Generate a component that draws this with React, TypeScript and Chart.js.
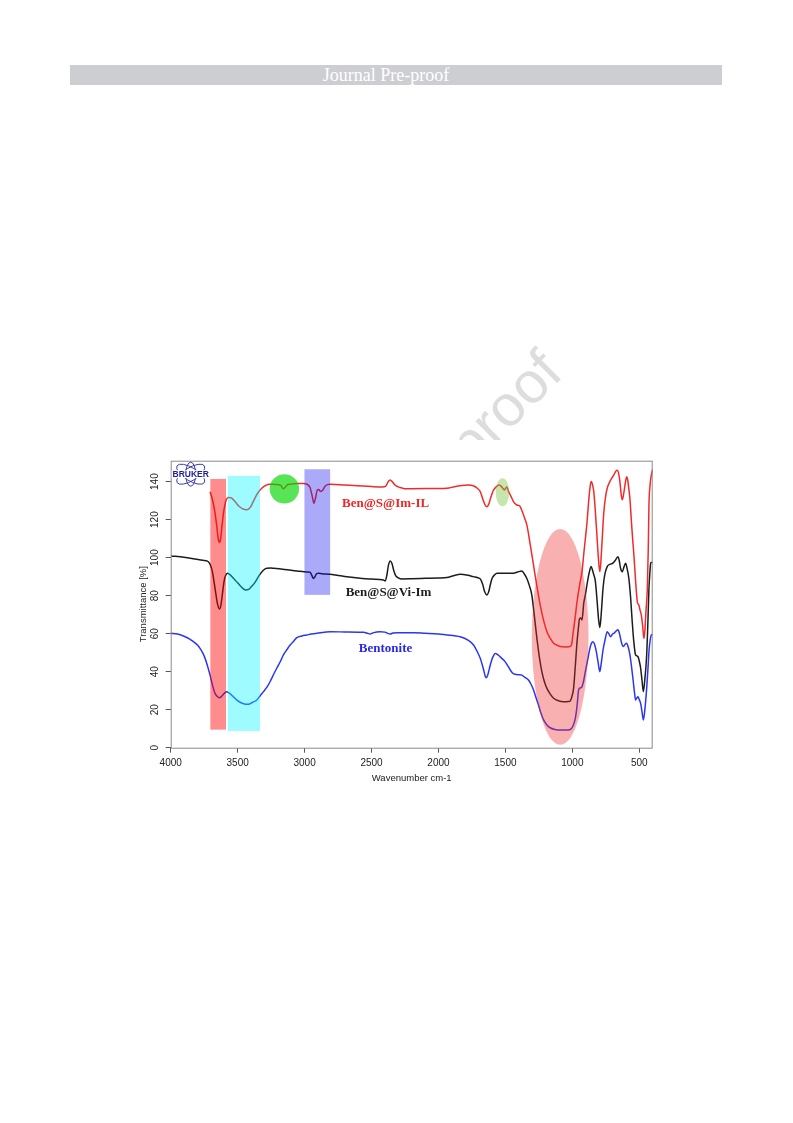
import React, { useEffect, useRef } from 'react';
import { Chart, registerables } from 'chart.js';

Chart.register(...registerables);

// ---------- axis ticks ----------
const X_TICKS = [4000, 3500, 3000, 2500, 2000, 1500, 1000, 500];
const Y_TICKS = [0, 20, 40, 60, 80, 100, 120, 140];

// ---------- Ben@S@Im-IL (red) ----------
const RED_WN = [3706, 3690, 3670, 3655, 3645, 3636, 3627, 3615, 3600, 3585, 3569, 3550, 3520, 3490, 3460, 3432, 3405, 3380, 3350, 3320, 3290, 3258, 3220, 3190, 3175, 3160, 3145, 3125, 3090, 3058, 3010, 2980, 2960, 2945, 2930, 2918, 2905, 2895, 2880, 2865, 2850, 2830, 2809, 2700, 2600, 2500, 2420, 2395, 2375, 2361, 2345, 2325, 2300, 2270, 2249, 2200, 2100, 2000, 1937, 1880, 1837, 1780, 1740, 1710, 1688, 1665, 1650, 1638, 1625, 1610, 1588, 1565, 1551, 1535, 1520, 1509, 1498, 1489, 1478, 1464, 1450, 1440, 1415, 1400, 1390, 1370, 1355, 1340, 1315, 1290, 1265, 1240, 1215, 1190, 1165, 1140, 1110, 1090, 1050, 1016, 1005, 995, 980, 965, 945, 928, 912, 900, 890, 878, 868, 860, 852, 840, 828, 815, 805, 795, 787, 777, 765, 752, 740, 720, 700, 690, 675, 665, 655, 645, 635, 627, 617, 607, 600, 595, 587, 578, 570, 560, 550, 540, 528, 515, 508, 503, 495, 485, 475, 468, 465, 458, 450, 440, 433, 428, 420, 410, 400];
const RED_T = [134.7, 131, 124, 116, 110, 108, 110, 118, 126, 130.5, 131.6, 131.5, 129.5, 127, 125.6, 125.2, 126.5, 130, 134, 136.5, 138, 138.6, 138.5, 138.4, 137.8, 136.2, 137, 138.5, 138.8, 139, 139, 138.5, 137, 133, 128.6, 131.5, 135.6, 135.8, 134.8, 135.4, 137.3, 138.4, 138.6, 138.2, 137.8, 137.4, 137.2, 137.5, 140, 140.9, 140, 138.2, 137.2, 136.6, 136.2, 136.3, 136.4, 136.4, 136.5, 137.3, 137.8, 138.2, 137.8, 136.5, 134.7, 130, 127.5, 126.8, 128, 131.5, 135.6, 137.5, 138.2, 137.8, 136.5, 135.6, 136.5, 137.2, 135, 133, 131, 129.5, 127.7, 127.5, 126.8, 123.5, 120.5, 117.2, 107, 96, 85, 75, 67, 61, 57.5, 55, 53.8, 53.2, 53, 53.2, 54.5, 60, 68, 76.8, 86, 92.6, 104, 112, 119, 130, 137, 140, 139, 134.7, 124, 110, 99, 92.6, 98, 110, 124, 132, 136.5, 140, 142.5, 143.5, 145.5, 146, 144.5, 140, 133, 130.4, 133.5, 138.2, 141, 142.6, 141, 136, 131, 120, 110, 101, 88, 76.8, 75.5, 75, 72.5, 69.8, 64, 58.5, 57.5, 62, 72, 83.9, 105, 127.7, 138, 143.5, 146.5];

// ---------- Ben@S@Vi-Im (black) ----------
const BLACK_WN = [4000, 3900, 3806, 3760, 3726, 3712, 3700, 3690, 3680, 3665, 3650, 3636, 3625, 3612, 3600, 3590, 3577, 3560, 3530, 3500, 3470, 3440, 3420, 3400, 3370, 3340, 3310, 3283, 3250, 3233, 3150, 3058, 2980, 2959, 2945, 2934, 2922, 2910, 2895, 2870, 2809, 2700, 2600, 2500, 2411, 2398, 2385, 2375, 2361, 2348, 2335, 2320, 2300, 2275, 2200, 2100, 2000, 1937, 1887, 1837, 1780, 1740, 1700, 1688, 1670, 1655, 1638, 1625, 1612, 1600, 1580, 1563, 1500, 1440, 1410, 1378, 1360, 1340, 1320, 1303, 1285, 1265, 1245, 1228, 1210, 1190, 1165, 1140, 1100, 1066, 1030, 1016, 1005, 991, 978, 965, 955, 946, 937, 928, 915, 903, 888, 873, 860, 850, 840, 828, 815, 805, 795, 787, 778, 771, 758, 740, 720, 700, 680, 660, 650, 640, 627, 615, 602, 592, 578, 565, 553, 540, 528, 518, 510, 500, 490, 480, 470, 460, 445, 435, 428, 420, 415, 400];
const BLACK_T = [100.9, 100.2, 99.1, 98.6, 98.2, 97.2, 95.5, 93, 89, 82, 75.5, 73, 75, 82, 88, 90.6, 91.8, 91.2, 89, 86.8, 84.4, 83, 83.2, 84.5, 87, 90.5, 93.2, 94.4, 94.5, 94.4, 93.8, 93, 92.4, 92.3, 90.5, 89, 90, 91.6, 91.8, 91.5, 91.2, 90.1, 89.3, 88.7, 88.2, 87.7, 91, 95.5, 98.2, 97, 93.5, 90.5, 89.4, 88.8, 88.9, 89.1, 89.3, 89.5, 90.5, 91.2, 90.7, 90, 89.3, 88.8, 86, 82, 80.4, 82, 86, 89, 91, 91.8, 91.8, 91.8, 92.4, 93, 91.5, 89, 85, 80.4, 70, 57.5, 47, 40, 35, 31.2, 28.2, 26, 24.6, 24.2, 24.3, 24.6, 26.5, 31.2, 43, 55.8, 63, 68, 68.2, 67.2, 76, 80.4, 87, 92.5, 95.3, 93.5, 91, 87.4, 77, 68, 63.2, 68, 77, 83.9, 91, 95.3, 96.5, 97, 98.5, 100.5, 98.5, 94.4, 92.6, 95, 97, 94.5, 89, 79, 66.3, 55, 48.8, 48.3, 47.9, 45.5, 41.8, 35.5, 29.5, 35, 48.8, 68, 83.9, 93, 97.5, 97.5];

// ---------- Bentonite (blue) ----------
const BLUE_WN = [4000, 3950, 3905, 3860, 3831, 3800, 3781, 3760, 3743, 3725, 3706, 3690, 3669, 3650, 3636, 3620, 3606, 3594, 3582, 3565, 3550, 3532, 3510, 3482, 3450, 3420, 3390, 3357, 3330, 3307, 3280, 3258, 3232, 3208, 3180, 3158, 3130, 3108, 3080, 3058, 3020, 2984, 2950, 2909, 2809, 2700, 2600, 2560, 2530, 2510, 2490, 2436, 2400, 2375, 2361, 2340, 2300, 2187, 2100, 2000, 1937, 1880, 1837, 1780, 1738, 1710, 1688, 1665, 1650, 1643, 1632, 1613, 1595, 1575, 1555, 1535, 1513, 1490, 1464, 1445, 1427, 1400, 1378, 1355, 1328, 1310, 1290, 1270, 1253, 1235, 1215, 1190, 1166, 1130, 1091, 1050, 1016, 998, 978, 965, 953, 940, 928, 915, 903, 885, 866, 856, 846, 835, 821, 808, 795, 785, 771, 755, 740, 728, 715, 700, 690, 675, 660, 648, 635, 620, 607, 595, 583, 570, 557, 545, 535, 528, 520, 510, 500, 490, 480, 470, 460, 445, 435, 428, 420, 410, 400];
const BLUE_T = [60.2, 59.8, 58.8, 57.3, 55.8, 54, 52.3, 49.8, 47, 43, 38.2, 33.5, 28.6, 26.8, 26.3, 27, 28.1, 29, 29.5, 28.8, 28, 26.8, 25.3, 23.9, 23, 22.8, 23.8, 25.1, 27.5, 29.5, 32, 34.7, 38.5, 41.8, 45.5, 48.8, 51.8, 54, 56.2, 57.9, 58.8, 59.3, 59.8, 60.2, 61, 60.9, 60.8, 60.7, 60.2, 59.8, 60.4, 61, 60.8, 60, 59.8, 60.3, 60.5, 60.5, 60.2, 59.8, 59.3, 58.9, 58.4, 56.6, 54, 50.5, 47, 41.5, 37.5, 36.8, 38.3, 43.5, 47.5, 49.6, 48.8, 47.5, 46.1, 44, 40.9, 39.2, 38.6, 38.4, 38.2, 37, 35.6, 33.5, 30.4, 26, 22.5, 18.2, 14.6, 12, 10.5, 9.6, 9.3, 9.3, 9.6, 11, 15.4, 22, 30.4, 31.5, 32.1, 35.5, 40, 46.5, 53.2, 55.2, 55.8, 54.5, 50.5, 45, 40, 44, 51.4, 57, 61, 60, 58.4, 59.8, 60.2, 61.2, 62, 60, 55.8, 53.2, 54.3, 55, 53, 48.8, 42, 34.7, 28.5, 25.1, 26, 26.8, 25.2, 23.3, 19, 14.6, 19, 31.2, 42, 50.5, 56, 59.3, 59.6];

// ---------- highlighted bands (data units) ----------
const RECT_WN_FROM = [3704, 3574, 3001];
const RECT_WN_TO = [3587, 3333, 2809];
const RECT_T_FROM = [9.5, 8.8, 80.4];
const RECT_T_TO = [141.4, 143, 146.5];
const RECT_COLORS = ['rgba(255,0,0,0.45)', 'rgba(0,245,255,0.38)', 'rgba(20,20,235,0.36)'];

const ELL_WN = [3151, 1522, 1091];
const ELL_T = [136.2, 134.4, 58.3];
const ELL_RWN = [110, 50, 211.5];
const ELL_RT = [7.7, 7.4, 56.8];
const ELL_COLORS = ['rgba(0,215,0,0.66)', 'rgba(120,195,60,0.42)', 'rgba(240,40,40,0.37)'];

// ---------- series labels ----------
const LABEL_TEXTS = ['Ben@S@Im-IL', 'Ben@S@Vi-Im', 'Bentonite'];
const LABEL_WN = [2395, 2373, 2395];
const LABEL_T = [128.6, 81.8, 51.9];
const LABEL_COLORS = ['#ee2626', '#1e1e1e', '#2a2ae6'];

const SERIES_NAMES = ['Ben@S@Im-IL', 'Ben@S@Vi-Im', 'Bentonite'];
const SERIES_COLORS = ['#f22a2a', '#1c1c1c', '#2b36f0'];

const zip = (xs: number[], ys: number[]) => xs.map((x, i) => ({ x, y: ys[i] }));

const overlayPlugin = {
  id: 'overlay',
  afterDatasetsDraw(chart: any) {
    const { ctx, chartArea, scales } = chart;
    const xs = scales.x;
    const ys = scales.y;
    ctx.save();
    // rectangles
    RECT_WN_FROM.forEach((w0, i) => {
      const x0 = xs.getPixelForValue(w0);
      const x1 = xs.getPixelForValue(RECT_WN_TO[i]);
      const y0 = ys.getPixelForValue(RECT_T_FROM[i]);
      const y1 = ys.getPixelForValue(RECT_T_TO[i]);
      ctx.fillStyle = RECT_COLORS[i];
      ctx.fillRect(Math.min(x0, x1), Math.min(y0, y1), Math.abs(x1 - x0), Math.abs(y1 - y0));
    });
    // ellipses
    ELL_WN.forEach((w, i) => {
      const cx = xs.getPixelForValue(w);
      const cy = ys.getPixelForValue(ELL_T[i]);
      const rx = Math.abs(xs.getPixelForValue(w + ELL_RWN[i]) - cx);
      const ry = Math.abs(ys.getPixelForValue(ELL_T[i] + ELL_RT[i]) - cy);
      ctx.beginPath();
      ctx.ellipse(cx, cy, rx, ry, 0, 0, Math.PI * 2);
      ctx.fillStyle = ELL_COLORS[i];
      ctx.fill();
    });
    // labels
    ctx.font = 'bold 13px "Liberation Serif", "Times New Roman", serif';
    ctx.textAlign = 'center';
    ctx.textBaseline = 'middle';
    LABEL_TEXTS.forEach((t, i) => {
      ctx.fillStyle = LABEL_COLORS[i];
      ctx.fillText(t, xs.getPixelForValue(LABEL_WN[i]), ys.getPixelForValue(LABEL_T[i]));
    });
    // frame box
    ctx.strokeStyle = '#8a8a8a';
    ctx.lineWidth = 1;
    ctx.strokeRect(chartArea.left + 0.5, chartArea.top + 0.5, chartArea.right - chartArea.left - 1, chartArea.bottom - chartArea.top);
    // BRUKER logo (decoration)
    const lx = chartArea.left + 20;
    const ly = chartArea.top + 13.5;
    ctx.strokeStyle = '#3a3ab0';
    ctx.lineWidth = 1;
    [0.55, -0.55].forEach((r) => {
      ctx.beginPath();
      ctx.ellipse(lx, ly, 16, 6.5, r, 0, Math.PI * 2);
      ctx.stroke();
    });
    ctx.beginPath();
    ctx.ellipse(lx, ly, 5, 12, 0, 0, Math.PI * 2);
    ctx.stroke();
    ctx.fillStyle = '#ffffff';
    ctx.fillRect(lx - 19, ly - 4, 38, 8);
    ctx.font = 'bold 8.5px "Liberation Sans", Arial, sans-serif';
    ctx.fillStyle = '#1f1f9c';
    ctx.textAlign = 'center';
    ctx.textBaseline = 'middle';
    ctx.fillText('BRUKER', lx, ly + 0.5);
    ctx.restore();
  },
};

function FtirChart() {
  const ref = useRef<HTMLCanvasElement>(null);
  useEffect(() => {
    if (!ref.current) return;
    const tickFont = { family: '"Liberation Sans", Arial, sans-serif', size: 10 };
    const titleFont = { family: '"Liberation Sans", Arial, sans-serif', size: 9.5 };
    const plain = (v: any) => String(v);
    const chart = new Chart(ref.current, {
      type: 'line',
      data: {
        datasets: [
          { label: SERIES_NAMES[0], data: zip(RED_WN, RED_T) },
          { label: SERIES_NAMES[1], data: zip(BLACK_WN, BLACK_T) },
          { label: SERIES_NAMES[2], data: zip(BLUE_WN, BLUE_T) },
        ].map((d, i) => ({
          ...d,
          borderColor: SERIES_COLORS[i],
          borderWidth: 1.5,
          pointRadius: 0,
          fill: false,
          cubicInterpolationMode: 'monotone' as const,
        })),
      },
      options: {
        animation: false,
        responsive: false,
        maintainAspectRatio: false,
        layout: { padding: { top: 20.7, right: 7.3, left: 0, bottom: 0 } },
        plugins: { legend: { display: false }, tooltip: { enabled: false } },
        scales: {
          x: {
            type: 'linear',
            reverse: true,
            min: 400,
            max: 4000,
            afterBuildTicks: (s: any) => {
              s.ticks = X_TICKS.map((v) => ({ value: v }));
            },
            afterFit: (s: any) => {
              s.height = 42.3;
            },
            grid: { drawOnChartArea: false, tickLength: 5, color: '#555' },
            border: { display: false },
            ticks: { font: tickFont, color: '#222', padding: 5, maxRotation: 0, autoSkip: false, callback: plain },
            title: { display: true, text: 'Wavenumber cm-1', font: titleFont, color: '#222', padding: { top: 0, bottom: 6 } },
          },
          y: {
            min: 0,
            max: 151,
            afterBuildTicks: (s: any) => {
              s.ticks = Y_TICKS.map((v) => ({ value: v }));
            },
            afterFit: (s: any) => {
              s.width = 40.7;
            },
            grid: { drawOnChartArea: false, tickLength: 5, color: '#555' },
            border: { display: false },
            ticks: { font: tickFont, color: '#222', padding: 2, minRotation: 90, maxRotation: 90, crossAlign: 'center', autoSkip: false, callback: plain },
            title: { display: true, text: 'Transmittance [%]', font: titleFont, color: '#222', padding: { top: 7.6, bottom: 0 } },
          },
        },
      },
      plugins: [overlayPlugin],
    } as any);
    return () => chart.destroy();
  }, []);
  return <canvas ref={ref} width={530} height={350} style={{ display: 'block', background: '#ffffff' }} />;
}

export default function App() {
  return (
    <div style={{ position: 'absolute', left: 0, top: 0, width: 793, height: 1123, background: '#ffffff', overflow: 'hidden' }}>
      <div
        style={{
          position: 'absolute',
          left: 70,
          top: 65,
          width: 652,
          height: 20,
          background: '#cdced2',
          color: '#ffffff',
          fontFamily: '"Liberation Serif", "Times New Roman", serif',
          fontSize: 18,
          lineHeight: '20px',
          textAlign: 'center',
          paddingRight: 20,
          boxSizing: 'border-box',
        }}
      >
        Journal Pre-proof
      </div>
      <svg width={793} height={1123} style={{ position: 'absolute', left: 0, top: 0 }}>
        <text
          x={248}
          y={692}
          transform="rotate(-45 248 692)"
          fill="#dddddd"
          fontFamily='"Liberation Sans", Arial, sans-serif'
          fontSize={58}
        >
          Journal Pre-proof
        </text>
      </svg>
      <div style={{ position: 'absolute', left: 130, top: 440, width: 530, height: 350, background: '#ffffff' }}>
        <FtirChart />
      </div>
    </div>
  );
}
